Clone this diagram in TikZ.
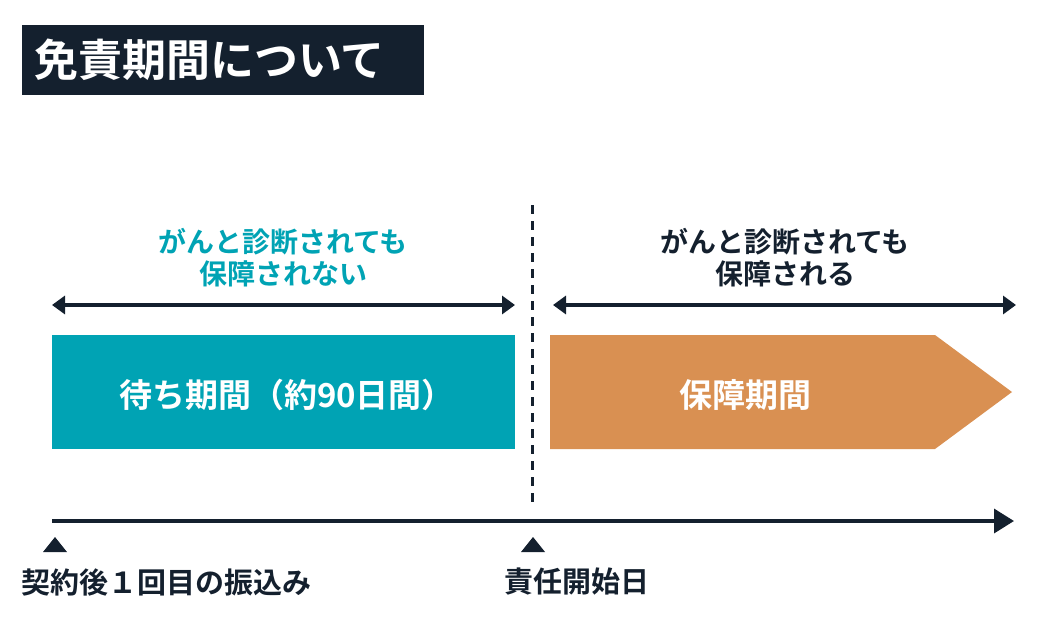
\documentclass[tikz,border=0pt]{standalone}
\usepackage{fontspec}
\setmainfont{Noto Sans CJK JP}[BoldFont={* Bold}]
\usetikzlibrary{arrows.meta}
\definecolor{navy}{HTML}{14202E}
\definecolor{teal}{HTML}{00A3B4}
\definecolor{orng}{HTML}{D99052}
\tikzset{
  lbl/.style={font=\bfseries\fontsize{28}{32}\selectfont,align=center,inner sep=0pt},
  dbl/.style={navy,line width=3.5pt,{Triangle[length=13pt,width=18pt]}-{Triangle[length=13pt,width=18pt]}},
  tri/.style={fill=navy,draw=none},
  bot/.style={font=\bfseries\fontsize{29}{32}\selectfont,text=navy,anchor=west,inner sep=0pt}
}
\begin{document}
\begin{tikzpicture}[x=1pt,y=-1pt]
\useasboundingbox (0,0) rectangle (1040,626);
\fill[navy] (22,25) rectangle (424,95);
\node[font=\bfseries\fontsize{44}{48}\selectfont,text=white,anchor=west,inner sep=0pt] (title) at (34,60) {免責期間について};
\draw[navy,line width=3pt,dash pattern=on 9pt off 7pt] (532,205) coordinate (d1) -- (532,505) coordinate (d2);
\node[lbl,text=teal] (lt) at (283,258) {がんと診断されても\\保障されない};
\node[lbl,text=navy] (rt) at (785,258) {がんと診断されても\\保障される};
\coordinate (a1) at (52,305); \coordinate (a2) at (515,305);
\coordinate (b1) at (553,305); \coordinate (b2) at (1016,305);
\draw[dbl] (a1) -- (a2);
\draw[dbl] (b1) -- (b2);
\fill[teal] (52,335) rectangle (515,449);
\node[font=\bfseries\fontsize{33}{36}\selectfont,text=white] (wait) at (287,395) {待ち期間（約90日間）};
\fill[orng] (550,335) -- (935,335) -- (1012,392) -- (935,449) -- (550,449) -- cycle;
\node[font=\bfseries\fontsize{33}{36}\selectfont,text=white] (hosho) at (745,395) {保障期間};
\coordinate (t1) at (52,521); \coordinate (t2) at (1014,521);
\draw[navy,line width=3.5pt,-{Triangle[length=20pt,width=24pt]}] (t1) -- (t2);
\fill[tri] (43,552) -- (55,537) -- (67,552) -- cycle;
\fill[tri] (521,552) -- (533,537) -- (545,552) -- cycle;
\node[bot] (l1) at (21,582) {契約後１回目の振込み};
\node[bot] (l2) at (504,582) {責任開始日};
\end{tikzpicture}
\end{document}
